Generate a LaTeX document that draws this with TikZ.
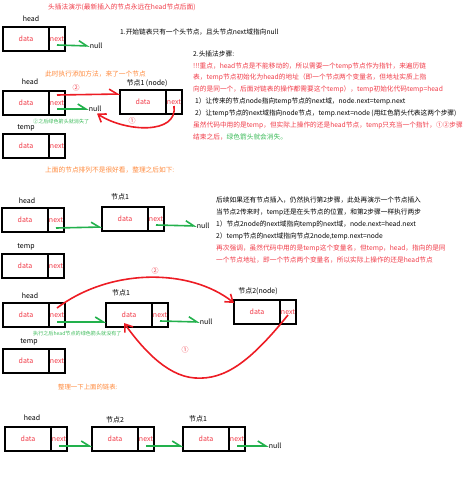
\documentclass[tikz,border=0pt]{standalone}
\usepackage{fontspec}
\setmainfont{Noto Sans CJK SC}
\usepackage{tikz}
\usetikzlibrary{positioning,arrows.meta}

\definecolor{pred}{HTML}{ED1C24}
\definecolor{pgreen}{HTML}{22B14C}
\definecolor{tred}{HTML}{F03A47}
\definecolor{torange}{HTML}{FF8A3D}
\definecolor{tgreen}{HTML}{3DBB5A}

% one list node = data cell + next cell
\newcommand{\listnode}[3]{%
  \node[datacell] (#1) at (#2,#3) {data};
  \node[nextcell] (#1n) at (#1.north east) {next};
}

\begin{document}
\begin{tikzpicture}[x=1pt, y=-1pt,
  datacell/.style = {rectangle, draw=black, line width=1.4pt, anchor=north west,
                     minimum width=46pt, minimum height=24pt, inner sep=0pt,
                     outer sep=0pt, text=tred, font=\fontsize{7}{8}\selectfont},
  nextcell/.style = {datacell, minimum width=16pt},
  lbl/.style      = {inner sep=0pt, font=\fontsize{7}{8}\selectfont},
  note/.style     = {inner sep=0pt, anchor=base west, align=left,
                     font=\fontsize{6.7}{11.9}\selectfont},
  block/.style    = {note, anchor=north west},
  tiny/.style     = {inner sep=0pt, anchor=west, text=tgreen,
                     font=\fontsize{5.1}{6}\selectfont},
  circlbl/.style  = {inner sep=0pt, text=tred, font=\fontsize{7}{8}\selectfont},
  garr/.style     = {draw=pgreen, line width=1.6pt,
                     -{Straight Barb[left, length=8pt, width=10pt]}},
  rarr/.style     = {draw=pred, line width=1.6pt,
                     -{Straight Barb[left, length=8pt, width=10pt]}},
  rcurve/.style   = {draw=pred, line width=1.6pt,
                     -{Straight Barb[length=7pt, width=10pt]}},
]
\useasboundingbox (0,0) rectangle (474,491);

% texts
\node[note, text=tred] (title) at (48,9.5) {头插法演示(最新插入的节点永远在head节点后面)};
\node[note] (intro) at (120,34.5) {1.开始链表只有一个头节点，且头节点next域指向null};
\node[note, text=torange] (addnode) at (45,76.5) {此时执行添加方法，来了一个节点};
\node[block] (steps) at (193,50.3) {2.头插法步骤:\\
  \textcolor{tred}{!!!重点，head节点是不能移动的，所以需要一个temp节点作为指针，来遍历链}\\
  \textcolor{tred}{表，temp节点初始化为head的地址（即一个节点两个变量名，但地址实质上指}\\
  \textcolor{tred}{向的是同一个，后面对链表的操作都需要这个temp），temp初始化代码temp=head}\\
  \hspace{2pt}1）让传来的节点node指向temp节点的next域，node.next=temp.next\\
  \hspace{2pt}2）让temp节点的next域指向node节点，temp.next=node (用红色箭头代表这两个步骤)\\
  \textcolor{tred}{虽然代码中用的是temp，但实际上操作的还是head节点，temp只充当一个指针，①②步骤}\\
  \textcolor{tred}{结束之后，}\textcolor{tgreen}{绿色箭头就会消失。}};
\node[note, text=torange] (tidy) at (45,172.5) {上面的节点排列不是很好看，整理之后如下:};
\node[block] (more) at (216,196.8) {后续如果还有节点插入，仍然执行第2步骤，此处再演示一个节点插入\\
  当节点2传来时，temp还是在头节点的位置，和第2步骤一样执行两步\\
  1）节点2node的next域指向temp的next域，node.next=head.next\\
  2）temp节点的next域指向节点2node,temp.next=node\\
  \textcolor{tred}{再次强调，虽然代码中用的是temp这个变量名，但temp，head，指向的是同}\\
  \textcolor{tred}{一个节点地址，即一个节点两个变量名，所以实际上操作的还是head节点}};
\node[note, text=torange, font=\fontsize{6.4}{8}\selectfont] (tidytwo) at (58,389.5) {整理一下上面的链表:};

% part 1: only head
\node[lbl] (headA) at (31,19) {head};
\listnode{hA}{3}{27}
\node[lbl] (nullA) at (96,46) {null};
\draw[garr] ([yshift=-6pt]hAn.center) -- (nullA.west);

% part 2: node1 comes in
\node[lbl] (headB) at (30,82) {head};
\listnode{hB}{3}{91}
\node[lbl] (labB) at (147,83) {节点1 (node)};
\listnode{oneB}{120}{90}
\node[lbl] (nullB) at (95,109) {null};
\node[lbl] (tempB) at (26,128) {temp};
\listnode{tB}{3}{134}
\node[tiny] (goneB) at (33,122) {②之后绿色箭头就消失了};
\draw[garr] ([yshift=-6pt]hBn.center) -- (nullB.west);
\draw[rarr] ([yshift=8pt]hBn.center) -- ([yshift=8pt]oneB.west);
\node[circlbl] (twoB) at (76,88) {②};
\draw[rcurve] ([yshift=-4pt]oneBn.center) .. controls (178,135) and (125,132) .. ([xshift=2pt,yshift=-1.5pt]nullB.south);
\node[circlbl] (oneBl) at (132,121) {①};

% part 3: tidied
\node[lbl] (headC) at (27,201) {head};
\listnode{hC}{2}{208}
\node[lbl] (labC) at (120,197) {节点1};
\listnode{oneC}{102}{207}
\node[lbl] (nullC) at (203,226) {null};
\node[lbl] (tempC) at (26,247) {temp};
\listnode{tC}{2}{254}
\draw[garr] ([yshift=-8pt]hCn.center) -- ([yshift=-8pt]oneC.west);
\draw[garr] ([yshift=-6pt]oneCn.center) -- (nullC.west);

% part 4: node2 comes in
\node[lbl] (headD) at (30,296) {head};
\listnode{hD}{3}{303}
\node[lbl] (labD) at (121,293) {节点1};
\listnode{oneD}{106}{303}
\node[lbl] (labDD) at (258,291) {节点2(node)};
\listnode{twoD}{234}{300}
\node[lbl] (nullD) at (206,322) {null};
\node[tiny] (goneD) at (33,334) {执行之后head节点的绿色箭头就没有了};
\node[lbl] (tempD) at (29,342) {temp};
\listnode{tD}{3}{349}
\draw[garr] ([yshift=-7pt]hDn.center) -- ([yshift=-7pt]oneD.west);
\draw[garr] ([yshift=-6pt]oneDn.center) -- (nullD.west);
\draw[rcurve] ([yshift=7pt]hDn.center) .. controls (110,268) and (190,268) .. ([yshift=-3pt]twoD.north west);
\node[circlbl] (twoDl) at (155,271) {②};
\draw[rcurve] ([yshift=-3pt]twoDn.center) .. controls (250,362) and (225,380) .. (195,378)
  .. controls (165,376) and (140,345) .. ([xshift=-5pt,yshift=4pt]oneD.south);
\node[circlbl] (oneDl) at (185,350) {①};

% part 5: final list
\node[lbl] (headE) at (32,418) {head};
\listnode{hE}{5}{427}
\node[lbl] (labE) at (115,420) {节点2};
\listnode{twoE}{92}{427}
\node[lbl] (labEE) at (198,419) {节点1};
\listnode{oneE}{183}{427}
\node[lbl] (nullE) at (275,446) {null};
\draw[garr] ([yshift=-7pt]hEn.center) -- ([yshift=-7pt]twoE.west);
\draw[garr] ([yshift=-7pt]twoEn.center) -- ([yshift=-7pt]oneE.west);
\draw[garr] ([yshift=-7pt]oneEn.center) -- (nullE.west);
\end{tikzpicture}
\end{document}
